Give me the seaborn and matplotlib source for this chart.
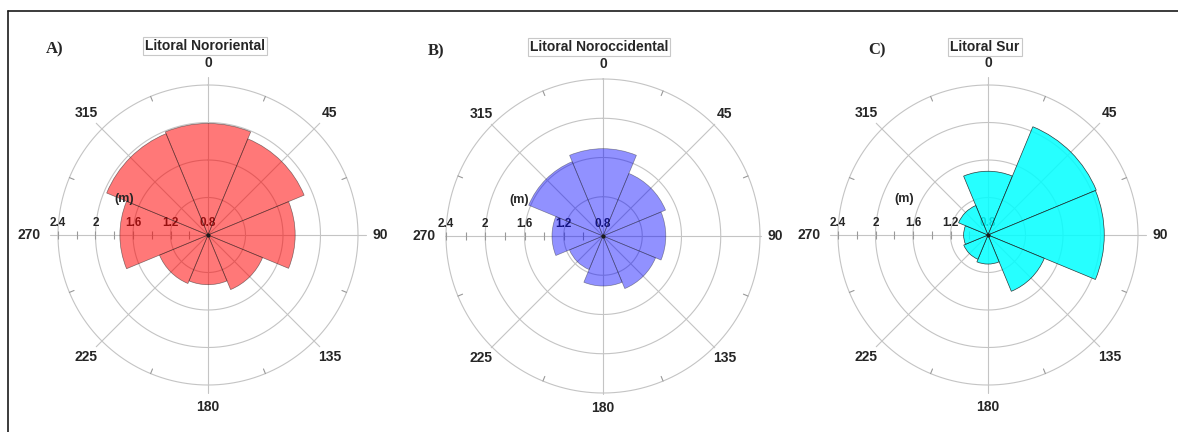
import numpy as np
import matplotlib
matplotlib.use("Agg")
import matplotlib.pyplot as plt
import seaborn as sns
from matplotlib.lines import Line2D

# mean wave height (m) per direction sector
directions = [0, 45, 90, 135, 180, 225, 270, 315]
nororiental = [1.99, 1.91, 1.73, 1.43, 1.33, 1.36, 1.74, 1.97]
noroccidental = [1.69, 1.49, 1.44, 1.38, 1.31, 1.17, 1.32, 1.62]
sur = [1.48, 2.05, 2.04, 1.45, 1.11, 1.08, 1.06, 1.14]

panel_titles = ["Litoral Nororiental", "Litoral Noroccidental", "Litoral Sur"]
panel_letters = ["A)", "B)", "C)"]
angle_ticks = [0, 45, 90, 135, 180, 225, 270, 315]
radial_ticks = [0.8, 1.2, 1.6, 2.0, 2.4]
radial_labels = ["0.8", "1.2", "1.6", "2", "2.4"]
radial_minor = [1.0, 1.2, 1.4, 1.6, 1.8, 2.0, 2.2, 2.4]

W, H = 1178, 432
RMIN, RMAX = 0.8, 2.4
GRID = "#c4c4c4"

sns.set_theme(style="white")
plt.rcParams["font.family"] = ["Liberation Sans", "DejaVu Sans"]

# layout in pixels: centre, outer radius, title and letter positions
layout = [
    dict(cx=208, cy=235, R=150, color="#ff0000", alpha=0.53, title=(205, 46), letter=(55, 49)),
    dict(cx=603, cy=236, R=157, color="#0000ff", alpha=0.43, title=(599, 47), letter=(436, 51)),
    dict(cx=988, cy=235, R=150, color="#00ffff", alpha=0.85, title=(985, 47), letter=(877, 50)),
]


def px2r(px, R):
    return RMIN + (RMAX - RMIN) * px / R


def draw_rose(fig, values, title, letter, lay):
    cx, cy, R = lay["cx"], lay["cy"], lay["R"]
    ax = fig.add_axes([(cx - R) / W, (H - cy - R) / H, 2 * R / W, 2 * R / H],
                      projection="polar")
    ax.set_theta_zero_location("N")
    ax.set_theta_direction(-1)
    ax.set_ylim(RMIN, RMAX)
    ax.grid(False)
    ax.set_xticks([])
    ax.set_yticks([])
    ax.spines["polar"].set_visible(False)
    ax.patch.set_alpha(0)

    # grid circles and spokes
    t = np.linspace(0, 2 * np.pi, 361)
    for r in radial_ticks[1:]:
        ax.plot(t, np.full_like(t, r), color=GRID, lw=0.8, zorder=1, clip_on=False)
    for a in angle_ticks:
        ax.plot([np.deg2rad(a)] * 2, [RMIN, px2r(158, R)], color=GRID, lw=0.8,
                zorder=1, clip_on=False)
        dist = 179 if a == 270 else 172
        ax.text(np.deg2rad(a), px2r(dist, R), str(a), ha="center", va="center",
                fontsize=10, fontweight="bold", clip_on=False)
    for a in [22.5, 67.5, 112.5, 157.5, 202.5, 247.5, 292.5, 337.5]:
        ax.plot([np.deg2rad(a)] * 2, [px2r(R - 5, R), px2r(R, R)], color="#999999",
                lw=0.8, zorder=1, clip_on=False)
    for r in radial_minor:
        ax.plot(np.deg2rad(270), r, marker="|", ms=6, mew=0.8, color="#999999",
                zorder=1, clip_on=False)

    # radial labels sit under the translucent sectors
    for r, lab in zip(radial_ticks, radial_labels):
        ax.annotate(lab, xy=(np.deg2rad(270), r), xytext=(0, 4),
                    textcoords="offset points", ha="center", va="bottom",
                    fontsize=8.5, fontweight="bold", zorder=2)

    vals = np.array(values)
    ax.bar(np.deg2rad(directions), vals - RMIN, width=np.deg2rad(45), bottom=RMIN,
           color=lay["color"], alpha=lay["alpha"], edgecolor="k", linewidth=0.5,
           zorder=3)
    ax.plot(0, RMIN, "o", ms=2, color="k", zorder=4)

    fig.text((cx - 84) / W, 1 - (cy - 36) / H, "(m)", ha="center", va="center",
             fontsize=9, fontweight="bold")
    tx, ty = lay["title"]
    fig.text(tx / W, 1 - ty / H, title, ha="center", va="center", fontsize=10,
             fontweight="bold",
             bbox=dict(boxstyle="square,pad=0.15", fc="white", ec="#c8c8c8", lw=0.8))
    lx, ly = lay["letter"]
    fig.text(lx / W, 1 - ly / H, letter, ha="center", va="center", fontsize=12,
             fontweight="bold", family=["Liberation Serif", "DejaVu Serif"])


fig = plt.figure(figsize=(W / 100, H / 100), dpi=100)
fig.patch.set_facecolor("white")

for values, title, letter, lay in zip([nororiental, noroccidental, sur],
                                      panel_titles, panel_letters, layout):
    draw_rose(fig, values, title, letter, lay)

# frame lines at the top and left of the figure
fig.add_artist(Line2D([8 / W, 1], [1 - 11 / H] * 2, color="k", lw=1.2,
                      transform=fig.transFigure))
fig.add_artist(Line2D([8 / W] * 2, [0, 1 - 11 / H], color="k", lw=1.2,
                      transform=fig.transFigure))

fig.savefig("out.png", dpi=100)
